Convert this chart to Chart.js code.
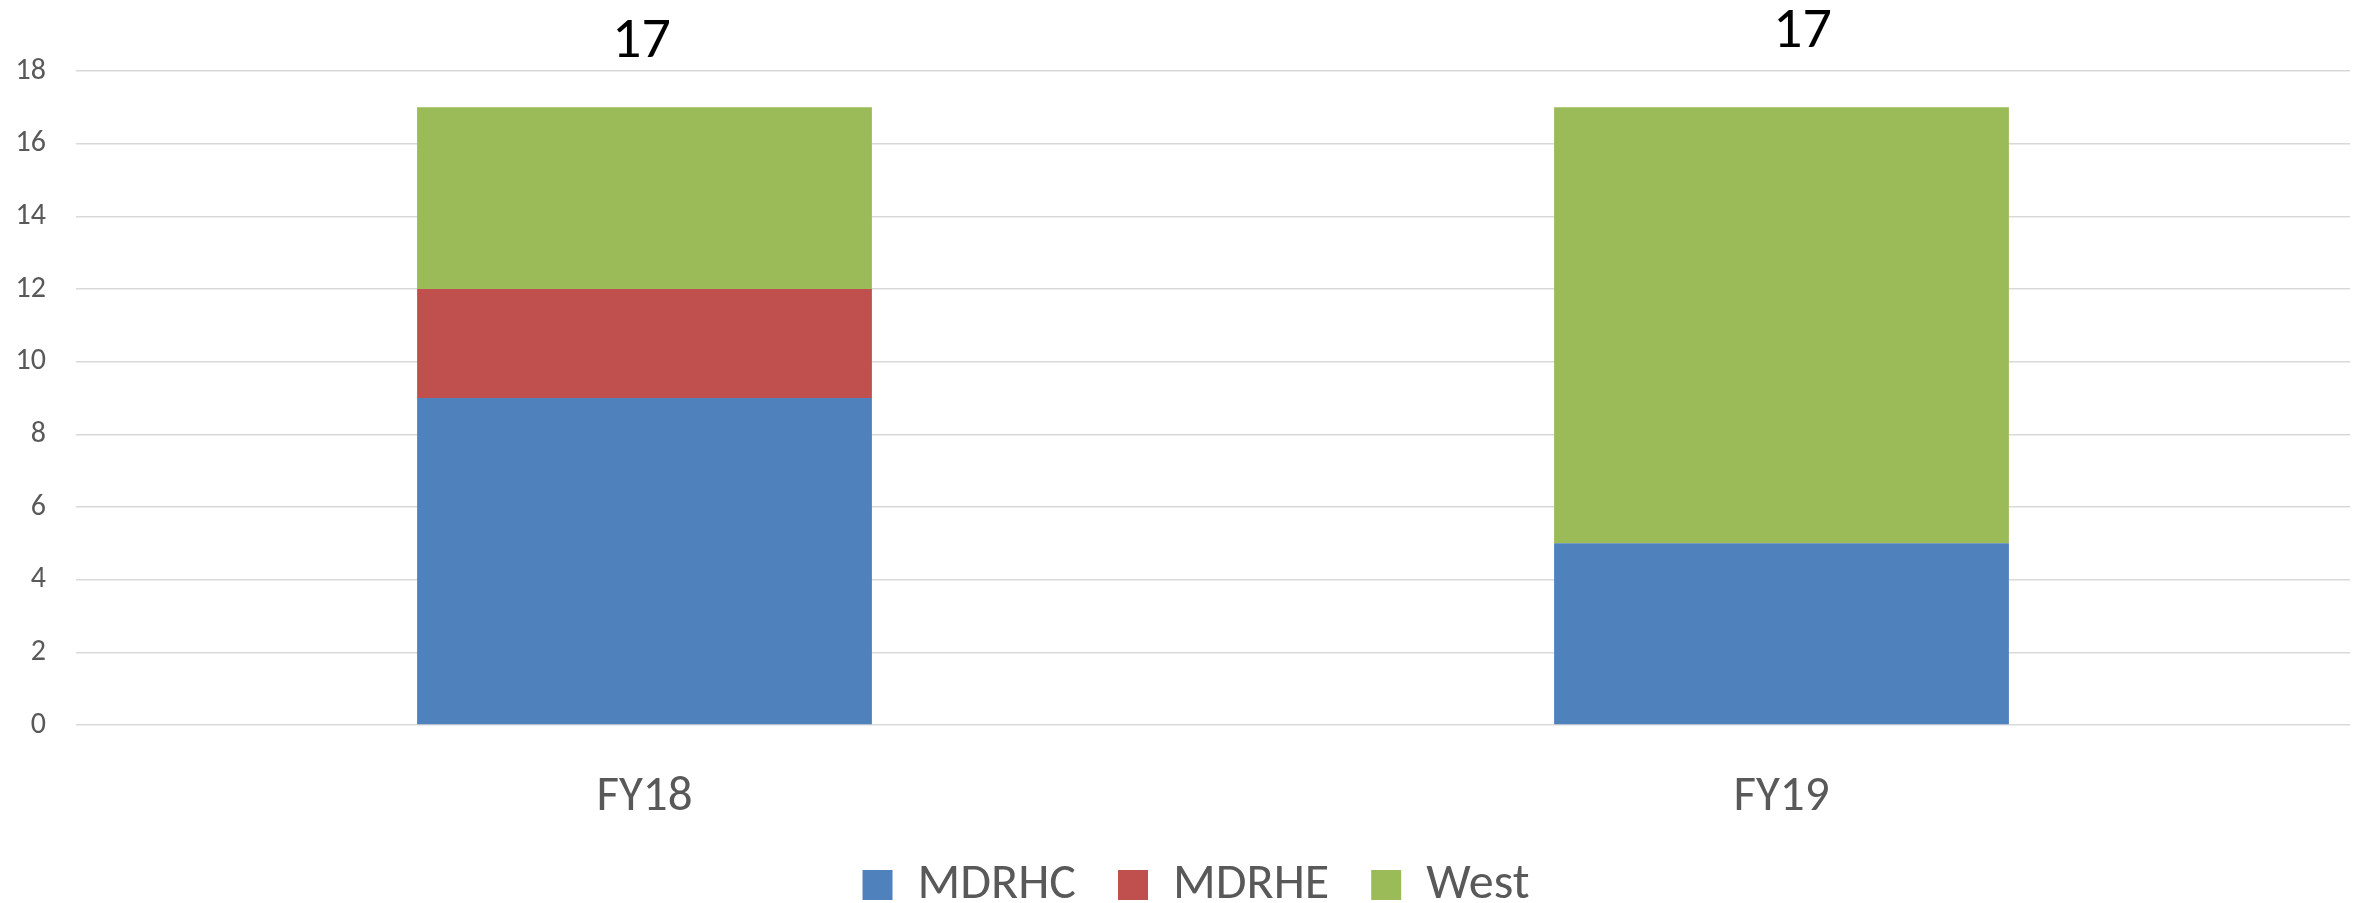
<!DOCTYPE html>
<html>
<head>
<meta charset="utf-8">
<script src="https://cdn.jsdelivr.net/npm/chart.js@4"></script>
<style>
  html, body { margin: 0; padding: 0; background: #fff; }
  #wrap { width: 2364px; height: 903px; }
</style>
</head>
<body>
<div id="wrap"><canvas id="fyChart" width="2364" height="903"></canvas></div>
<script>
// chart values
const categories = ["FY18", "FY19"];
const mdrhc = [9, 5];
const mdrhe = [3, 0];
const west = [5, 12];
const yTicks = [0, 2, 4, 6, 8, 10, 12, 14, 16, 18];

const FONT = "Carlito, Lato, sans-serif";

// totals drawn above each stack
const totalsPlugin = {
    id: "stackTotals",
    afterDatasetsDraw(chart, args, opts) {
        const ctx = chart.ctx;
        const yScale = chart.scales.y;
        const xScale = chart.scales.x;
        ctx.save();
        ctx.font = "58px " + FONT;
        ctx.fillStyle = "#000";
        ctx.textAlign = "center";
        ctx.textBaseline = "alphabetic";
        categories.forEach((c, i) => {
            const total = mdrhc[i] + mdrhe[i] + west[i];
            const shift = opts.shifts[i] || { dx: 0, dy: 0 };
            const x = xScale.getPixelForValue(i) + shift.dx;
            const y = yScale.getPixelForValue(total) + shift.dy;
            ctx.fillText(String(total), x, y);
        });
        ctx.restore();
    }
};

// keep the legend box short so it sits low like the original,
// and nudge it a little to the right
const legendHeightPlugin = {
    id: "legendHeight",
    beforeLayout(chart, args, opts) {
        const lg = chart.legend;
        if (lg && !lg._heightFixed) {
            const fit = lg.fit;
            lg.fit = function () {
                fit.call(this);
                this.height = opts.height;
            };
            lg._heightFixed = true;
        }
    },
    afterLayout(chart, args, opts) {
        const lg = chart.legend;
        if (lg) {
            lg.left += opts.dx;
            lg.right += opts.dx;
        }
    }
};

const ctx = document.getElementById("fyChart").getContext("2d");

new Chart(ctx, {
    type: "bar",
    data: {
        labels: categories,
        datasets: [
            { label: "MDRHC", data: mdrhc, backgroundColor: "#4F81BD" },
            { label: "MDRHE", data: mdrhe, backgroundColor: "#C0504D" },
            { label: "West", data: west, backgroundColor: "#9BBB59" },
        ],
    },
    plugins: [totalsPlugin, legendHeightPlugin],
    options: {
        responsive: false,
        animation: false,
        layout: { padding: { top: 71, right: 14, left: 0, bottom: 0 } },
        datasets: {
            bar: { categoryPercentage: 1.0, barPercentage: 0.4 },
        },
        scales: {
            x: {
                stacked: true,
                afterFit: (s) => { s.height = 93; },
                grid: { display: false },
                border: { display: false },
                ticks: { color: "#595959", font: { family: FONT, size: 49 }, padding: 35 },
            },
            y: {
                stacked: true,
                min: 0,
                max: 18,
                afterBuildTicks: (s) => { s.ticks = yTicks.map((v) => ({ value: v })); },
                afterFit: (s) => { s.width = 76; },
                grid: { color: "#d9d9d9", lineWidth: 1.5, drawTicks: false },
                border: { display: false },
                ticks: { color: "#595959", font: { family: FONT, size: 30 }, padding: 30 },
            },
        },
        plugins: {
            legend: {
                position: "bottom",
                labels: {
                    boxWidth: 30,
                    boxHeight: 30,
                    padding: 42,
                    color: "#595959",
                    font: { family: FONT, size: 50 },
                },
            },
            legendHeight: { height: 85, dx: 21 },
            tooltip: { enabled: false },
            stackTotals: {
                shifts: [ { dx: -3, dy: -50 }, { dx: 21, dy: -60 } ],
            },
        },
    },
});
</script>
</body>
</html>
